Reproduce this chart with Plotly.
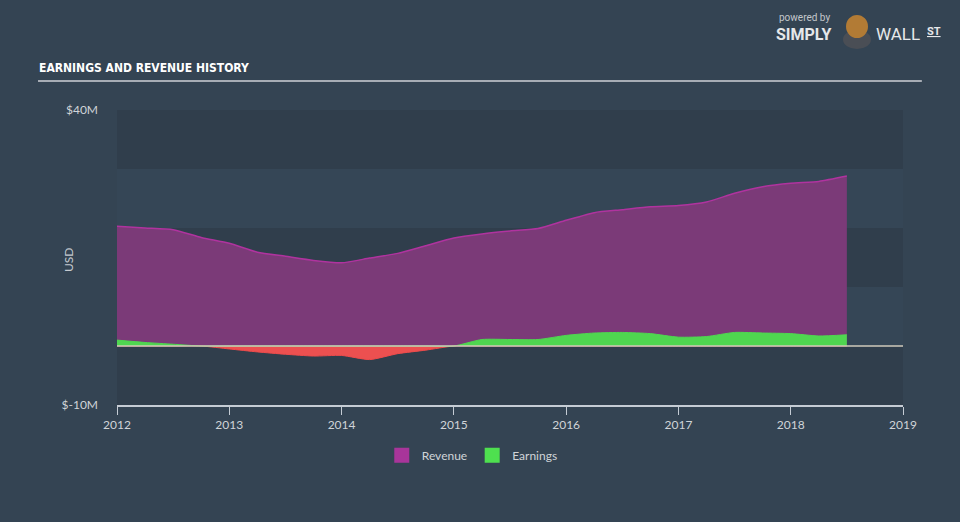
import numpy as np
import plotly.graph_objects as go

# ---- data (USD millions), quarterly from 2012.0 to 2018.5 ----
years = [2012.00, 2012.25, 2012.50, 2012.75, 2013.00, 2013.25, 2013.50, 2013.75,
         2014.00, 2014.25, 2014.50, 2014.75, 2015.00, 2015.25, 2015.50, 2015.75,
         2016.00, 2016.25, 2016.50, 2016.75, 2017.00, 2017.25, 2017.50, 2017.75,
         2018.00, 2018.25, 2018.50]
revenue = [20.3, 20.0, 19.7, 18.4, 17.4, 15.9, 15.2, 14.5,
           14.1, 14.9, 15.7, 17.0, 18.3, 19.0, 19.5, 19.9,
           21.3, 22.6, 23.1, 23.6, 23.8, 24.4, 25.9, 27.0,
           27.6, 27.9, 28.8]
earnings = [1.0, 0.6, 0.3, 0.0, -0.5, -1.0, -1.4, -1.7,
            -1.6, -2.3, -1.3, -0.7, 0.0, 1.1, 1.1, 1.1,
            1.8, 2.2, 2.3, 2.1, 1.5, 1.6, 2.3, 2.2,
            2.1, 1.7, 1.9]
x_ticks = [2012, 2013, 2014, 2015, 2016, 2017, 2018, 2019]
y_ticks = [-10, 40]
y_ticktext = ["$-10M", "$40M"]

earn = np.array(earnings)
earn_pos = np.clip(earn, 0, None)
earn_neg = np.clip(earn, None, 0)

FONT = "Lato"
BG = "#344453"
DARK = "#303e4c"
LIGHT = "#354656"
REV_FILL = "#7b3a78"
REV_LINE = "#b0339f"
GREEN = "#4fd650"
RED = "#ec5050"

fig = go.Figure()
fig.add_trace(go.Scatter(
    x=years, y=revenue, name="Revenue", mode="lines", showlegend=False,
    line=dict(color=REV_LINE, width=1.5, shape="spline", smoothing=0.6),
    fill="tozeroy", fillcolor=REV_FILL))
fig.add_trace(go.Scatter(
    x=years, y=earn_neg, name="Loss", mode="lines", showlegend=False,
    line=dict(color="#ee4b4b", width=1, shape="spline", smoothing=0.6),
    fill="tozeroy", fillcolor=RED))
fig.add_trace(go.Scatter(
    x=years, y=earn_pos, name="Earnings", mode="lines", showlegend=False,
    line=dict(color=GREEN, width=1, shape="spline", smoothing=0.6),
    fill="tozeroy", fillcolor=GREEN))
# legend entries (square swatches)
fig.add_trace(go.Scatter(x=[None], y=[None], name="Revenue", mode="markers",
                         marker=dict(symbol="square", size=15, color="#a8359a")))
fig.add_trace(go.Scatter(x=[None], y=[None], name="Earnings", mode="markers",
                         marker=dict(symbol="square", size=15, color="#4ee04f")))

shapes = []
bands = [(30, 40, DARK), (20, 30, LIGHT), (10, 20, DARK), (0, 10, LIGHT), (-10, 0, DARK)]
for y0, y1, c in bands:
    shapes.append(dict(type="rect", xref="paper", yref="y", x0=0, x1=1, y0=y0, y1=y1,
                       fillcolor=c, line=dict(width=0), layer="below"))
# zero line
shapes.append(dict(type="line", xref="paper", yref="y", x0=0, x1=1, y0=0, y1=0,
                   line=dict(color="#cfcabb", width=1.5), layer="above"))
# title underline
shapes.append(dict(type="line", xref="paper", yref="paper", x0=-0.1005, x1=1.024,
                   y0=1.098, y1=1.098, line=dict(color="#a7adb5", width=2)))


def px_x(p):
    return (p - 117) / 786


def px_y(p):
    return (405 - p) / 295


# simple logo mascot
shapes.append(dict(type="circle", xref="paper", yref="paper",
                   x0=px_x(843), x1=px_x(871), y0=px_y(49), y1=px_y(30),
                   fillcolor="#4a4e55", line=dict(width=0)))
shapes.append(dict(type="circle", xref="paper", yref="paper",
                   x0=px_x(846), x1=px_x(868), y0=px_y(38), y1=px_y(15),
                   fillcolor="#b27b35", line=dict(width=0)))

annotations = [
    dict(text="<b>EARNINGS AND REVENUE HISTORY</b>", xref="paper", yref="paper",
         x=px_x(37), y=px_y(68), xanchor="left", yanchor="middle", showarrow=False,
         font=dict(family="DejaVu Sans Condensed", size=12, color="#ffffff")),
    dict(text="USD", xref="paper", yref="paper", x=px_x(68), y=px_y(260),
         textangle=-90, showarrow=False, xanchor="center", yanchor="middle",
         font=dict(family=FONT, size=12, color="#c5cad0")),
    dict(text="powered by", xref="paper", yref="paper", x=px_x(777), y=px_y(17),
         xanchor="left", yanchor="middle", showarrow=False,
         font=dict(family="Roboto", size=10, color="#c3c7cc")),
    dict(text="<b>SIMPLY</b>", xref="paper", yref="paper", x=px_x(774), y=px_y(34),
         xanchor="left", yanchor="middle", showarrow=False,
         font=dict(family="Roboto", size=16, color="#e6e8ea")),
    dict(text="WALL", xref="paper", yref="paper", x=px_x(874), y=px_y(34),
         xanchor="left", yanchor="middle", showarrow=False,
         font=dict(family="Roboto", size=17, color="#e6e8ea")),
    dict(text="<b><u>ST</u></b>", xref="paper", yref="paper", x=px_x(925), y=px_y(31),
         xanchor="left", yanchor="middle", showarrow=False,
         font=dict(family="Roboto", size=11, color="#e6e8ea")),
]

fig.update_layout(
    width=960, height=522,
    margin=dict(l=117, r=57, t=110, b=117),
    paper_bgcolor=BG, plot_bgcolor=BG,
    font=dict(family=FONT, size=12, color="#d0d4d8"),
    shapes=shapes, annotations=annotations,
    showlegend=True,
    legend=dict(orientation="h", x=0.452, xanchor="center", y=-0.17, yanchor="middle",
                bgcolor="rgba(0,0,0,0)", font=dict(family=FONT, size=12, color="#d0d4d8"),
                itemwidth=30, traceorder="normal"),
    hovermode=False,
)
fig.update_xaxes(range=[2012, 2019], tickvals=x_ticks, ticktext=[str(t) for t in x_ticks],
                 showgrid=False, zeroline=False, showline=True, linecolor="#c5ccd4", linewidth=1.5,
                 ticks="outside", ticklen=8, tickcolor="#c5ccd4", tickwidth=1,
                 tickfont=dict(family=FONT, size=12, color="#d0d4d8"))
fig.update_yaxes(range=[-10, 40], tickvals=y_ticks, ticktext=y_ticktext,
                 showgrid=False, zeroline=False, showline=False, ticks="",
                 ticklabelstandoff=18,
                 tickfont=dict(family=FONT, size=12, color="#d0d4d8"))

fig.write_html("out.html")
